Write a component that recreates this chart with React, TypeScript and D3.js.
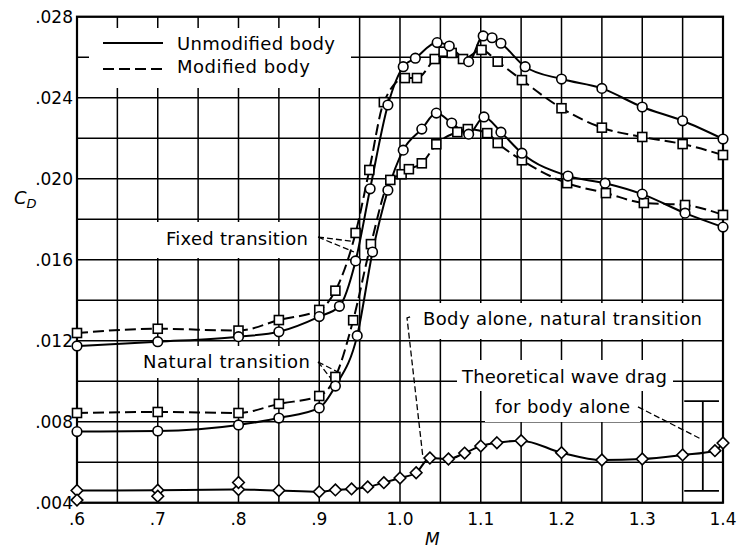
import * as d3 from "d3";

// Mach number / drag coefficient readings
const upperUnmodM = [0.6, 0.7, 0.8, 0.85, 0.9, 0.925, 0.945, 0.963, 0.985, 1.004, 1.019, 1.046, 1.061, 1.085, 1.103, 1.114, 1.125, 1.155, 1.2, 1.25, 1.3, 1.35, 1.4];
const upperUnmodCd = [0.01174, 0.01195, 0.0122, 0.01244, 0.01319, 0.0137, 0.01594, 0.0195, 0.02364, 0.02553, 0.02595, 0.02672, 0.02655, 0.02578, 0.02705, 0.02696, 0.02669, 0.02553, 0.02492, 0.02446, 0.02354, 0.02286, 0.02196];

const upperModM = [0.6, 0.7, 0.8, 0.85, 0.9, 0.92, 0.945, 0.962, 0.98, 1.006, 1.021, 1.043, 1.054, 1.064, 1.078, 1.101, 1.121, 1.151, 1.2, 1.25, 1.3, 1.35, 1.4];
const upperModCd = [0.01238, 0.01259, 0.0125, 0.01302, 0.01352, 0.01447, 0.01732, 0.02043, 0.02378, 0.02497, 0.02497, 0.02591, 0.02627, 0.02621, 0.02591, 0.02636, 0.02578, 0.02487, 0.02348, 0.02252, 0.02206, 0.02171, 0.02117];

const lowerUnmodM = [0.6, 0.7, 0.8, 0.85, 0.9, 0.92, 0.947, 0.966, 0.985, 1.004, 1.027, 1.045, 1.064, 1.085, 1.104, 1.125, 1.151, 1.208, 1.254, 1.3, 1.353, 1.4];
const lowerUnmodCd = [0.00751, 0.00754, 0.00784, 0.00818, 0.00868, 0.00976, 0.01225, 0.01638, 0.01943, 0.02141, 0.02245, 0.02324, 0.02275, 0.0222, 0.02305, 0.0223, 0.02126, 0.02013, 0.01978, 0.01924, 0.0183, 0.01761];

const lowerModM = [0.6, 0.7, 0.8, 0.85, 0.9, 0.92, 0.942, 0.964, 0.988, 1.002, 1.011, 1.027, 1.045, 1.071, 1.084, 1.108, 1.121, 1.151, 1.207, 1.255, 1.302, 1.353, 1.4];
const lowerModCd = [0.00843, 0.00848, 0.00843, 0.00888, 0.00927, 0.01021, 0.01301, 0.01677, 0.01994, 0.02022, 0.02047, 0.02076, 0.0217, 0.0223, 0.02245, 0.02225, 0.02176, 0.02091, 0.01978, 0.01929, 0.0188, 0.0187, 0.01821];

const bodyM = [0.6, 0.7, 0.8, 0.85, 0.9, 0.92, 0.94, 0.96, 0.98, 1.0, 1.02, 1.037, 1.06, 1.08, 1.1, 1.12, 1.15, 1.2, 1.25, 1.3, 1.35, 1.39, 1.4];
const bodyCd = [0.0046, 0.00462, 0.00465, 0.0046, 0.00454, 0.00463, 0.00468, 0.00478, 0.00499, 0.00522, 0.00548, 0.00621, 0.00616, 0.00645, 0.0068, 0.00696, 0.00706, 0.00647, 0.00611, 0.00616, 0.00636, 0.00657, 0.00695];
// repeat runs, plotted without a line
const bodyExtraM = [0.6, 0.7, 0.8];
const bodyExtraCd = [0.00413, 0.00432, 0.005];

// theoretical wave drag band for body alone
const waveM = 1.375;
const waveCapM = [1.352, 1.395];
const waveCd = [0.00458, 0.00902];

const xTicks = [0.6, 0.7, 0.8, 0.9, 1.0, 1.1, 1.2, 1.3, 1.4];
const xTickLabels = [".6", ".7", ".8", ".9", "1.0", "1.1", "1.2", "1.3", "1.4"];
const yTicks = [0.004, 0.008, 0.012, 0.016, 0.02, 0.024, 0.028];
const yTickLabels = [".004", ".008", ".012", ".016", ".020", ".024", ".028"];

const W = 738;
const H = 548;
const FONT = "'DejaVu Sans', sans-serif";

const x = d3.scaleLinear().domain([0.6, 1.4]).range([77, 723]);
const y = d3.scaleLinear().domain([0.004, 0.028]).range([502.7, 16.7]);

const zip = (ms: number[], cs: number[]) => ms.map((m, i) => [m, cs[i]] as [number, number]);

const line = d3
  .line<[number, number]>()
  .x((d) => x(d[0]))
  .y((d) => y(d[1]))
  .curve(d3.curveMonotoneX);

function Circles({ pts }: { pts: [number, number][] }) {
  return (
    <g>
      {pts.map((d, i) => (
        <circle key={i} cx={x(d[0])} cy={y(d[1])} r={4.8} fill="#fff" stroke="#000" strokeWidth={1.6} />
      ))}
    </g>
  );
}

function Squares({ pts }: { pts: [number, number][] }) {
  return (
    <g>
      {pts.map((d, i) => (
        <rect key={i} x={x(d[0]) - 4.5} y={y(d[1]) - 4.5} width={9} height={9} fill="#fff" stroke="#000" strokeWidth={1.6} />
      ))}
    </g>
  );
}

function Diamonds({ pts }: { pts: [number, number][] }) {
  return (
    <g>
      {pts.map((d, i) => {
        const cx = x(d[0]);
        const cy = y(d[1]);
        const s = 5.8;
        return (
          <path key={i} d={`M${cx},${cy - s}L${cx + s},${cy}L${cx},${cy + s}L${cx - s},${cy}Z`} fill="#fff" stroke="#000" strokeWidth={1.6} />
        );
      })}
    </g>
  );
}

// leader lines, in data units
const leaders: [number, number][][] = [
  [[0.8985, 0.01712], [0.9406, 0.01691]],
  [[0.8985, 0.01712], [0.943, 0.01638]],
  [[0.8985, 0.01095], [0.917, 0.0100]],
  [[0.8985, 0.01095], [0.9232, 0.01045]],
  [[1.0125, 0.01318], [1.0087, 0.01312], [1.0285, 0.0062]],
  [[1.2947, 0.00873], [1.375, 0.0071]],
];

export default function App() {
  const vLines = d3.range(0, 17).map((i) => 0.6 + i * 0.05);
  const hLines = d3.range(0, 13).map((i) => 0.004 + i * 0.002);

  // white patches behind the lettering
  const boxes = [
    { x: 89, y: 28, w: 262, h: 60 },
    { x: 155, y: 222, w: 160, h: 36 },
    { x: 140, y: 346, w: 176, h: 32 },
    { x: 415, y: 303, w: 290, h: 36 },
    { x: 457, y: 360, w: 216, h: 31 },
    { x: 485, y: 391, w: 155, h: 31 },
  ];

  return (
    <svg width={W} height={H} style={{ position: "absolute", left: 0, top: 0, background: "#fff" }} fontFamily={FONT}>
      <rect width={W} height={H} fill="#fff" />
      <g stroke="#000" strokeWidth={1.5}>
        {vLines.map((m, i) => (
          <line key={"v" + i} x1={x(m)} x2={x(m)} y1={y(0.004)} y2={y(0.028)} />
        ))}
        {hLines.map((c, i) => (
          <line key={"h" + i} x1={x(0.6)} x2={x(1.4)} y1={y(c)} y2={y(c)} />
        ))}
      </g>
      {boxes.map((b, i) => (
        <rect key={i} x={b.x} y={b.y} width={b.w} height={b.h} fill="#fff" />
      ))}
      <rect x={x(0.6)} y={y(0.028)} width={x(1.4) - x(0.6)} height={y(0.004) - y(0.028)} fill="none" stroke="#000" strokeWidth={2.2} />

      {/* leaders */}
      <g fill="none" stroke="#000" strokeWidth={1.3} strokeDasharray="6,3">
        {leaders.map((l, i) => (
          <path key={i} d={d3.line()(l.map((p) => [x(p[0]), y(p[1])]))!} />
        ))}
      </g>

      {/* wave drag band */}
      <g stroke="#000" strokeWidth={1.8}>
        <line x1={x(waveM)} x2={x(waveM)} y1={y(waveCd[0])} y2={y(waveCd[1])} />
        <line x1={x(waveCapM[0])} x2={x(waveCapM[1])} y1={y(waveCd[0])} y2={y(waveCd[0])} />
        <line x1={x(waveCapM[0])} x2={x(waveCapM[1])} y1={y(waveCd[1])} y2={y(waveCd[1])} />
      </g>

      {/* curves */}
      <g fill="none" stroke="#000" strokeWidth={2}>
        <path d={line(zip(upperUnmodM, upperUnmodCd))!} />
        <path d={line(zip(lowerUnmodM, lowerUnmodCd))!} />
        <path d={line(zip(bodyM, bodyCd))!} />
        <path d={line(zip(upperModM, upperModCd))!} strokeDasharray="11,5" />
        <path d={line(zip(lowerModM, lowerModCd))!} strokeDasharray="11,5" />
      </g>

      <Squares pts={zip(upperModM, upperModCd)} />
      <Squares pts={zip(lowerModM, lowerModCd)} />
      <Circles pts={zip(upperUnmodM, upperUnmodCd)} />
      <Circles pts={zip(lowerUnmodM, lowerUnmodCd)} />
      <Diamonds pts={zip(bodyM, bodyCd)} />
      <Diamonds pts={zip(bodyExtraM, bodyExtraCd)} />

      {/* legend */}
      <line x1={103} x2={163} y1={43} y2={43} stroke="#000" strokeWidth={2} />
      <line x1={103} x2={163} y1={69} y2={69} stroke="#000" strokeWidth={2} strokeDasharray="11,5" />
      <g fontSize={18} fill="#000">
        <text x={177} y={50} textLength={158} lengthAdjust="spacing">Unmodified body</text>
        <text x={177} y={73} textLength={133} lengthAdjust="spacing">Modified body</text>
        <text x={166} y={245} textLength={142} lengthAdjust="spacing">Fixed transition</text>
        <text x={143} y={368} textLength={167} lengthAdjust="spacing">Natural transition</text>
        <text x={423} y={325} textLength={279} lengthAdjust="spacing">Body alone, natural transition</text>
        <text x={462} y={383} textLength={205} lengthAdjust="spacing">Theoretical wave drag</text>
        <text x={495} y={413} textLength={135} lengthAdjust="spacing">for body alone</text>
      </g>

      {/* tick labels */}
      <g fontSize={17} fill="#000">
        {yTicks.map((t, i) => (
          <text key={i} x={73} y={y(t) + 6} textAnchor="end">{yTickLabels[i]}</text>
        ))}
        {xTicks.map((t, i) => (
          <text key={i} x={x(t)} y={525} textAnchor="middle">{xTickLabels[i]}</text>
        ))}
      </g>
      <text x={425} y={545} fontSize={17} fontStyle="italic">M</text>
      <text x={14} y={204} fontSize={18} fontStyle="italic">
        C<tspan fontSize={13} dy={4}>D</tspan>
      </text>
    </svg>
  );
}
